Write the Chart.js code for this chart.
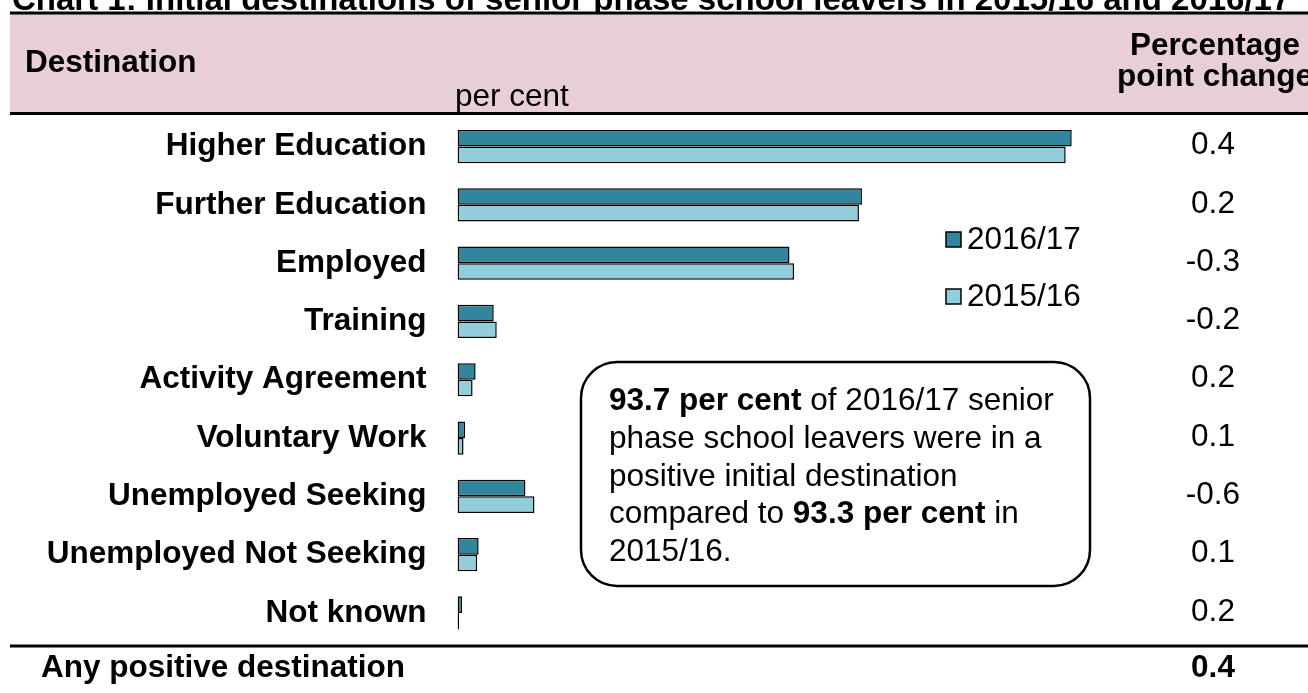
<!DOCTYPE html>
<html>
<head>
<meta charset="utf-8">
<script src="https://cdn.jsdelivr.net/npm/chart.js@4.4.1/dist/chart.umd.min.js"></script>
<style>
  html, body { margin: 0; padding: 0; background: #fff; }
  #wrap { width: 1308px; height: 693px; position: relative; }
</style>
</head>
<body>
<div id="wrap"><canvas id="c" width="1308" height="693"></canvas></div>
<script>
const titleText = 'Chart 1: Initial destinations of senior phase school leavers in 2015/16 and 2016/17';
const categories = ['Higher Education', 'Further Education', 'Employed', 'Training', 'Activity Agreement',
  'Voluntary Work', 'Unemployed Seeking', 'Unemployed Not Seeking', 'Not known'];
const seriesLabels = ['2016/17', '2015/16'];
const values1617 = [40.7, 26.8, 22.0, 2.4, 1.2, 0.5, 4.5, 1.4, 0.3];
const values1516 = [40.3, 26.6, 22.3, 2.6, 1.0, 0.4, 5.1, 1.3, 0.1];
const changeLabels = ['0.4', '0.2', '-0.3', '-0.2', '0.2', '0.1', '-0.6', '0.1', '0.2'];
const totalLabel = 'Any positive destination';
const totalChange = '0.4';
const headerLeft = 'Destination';
const headerUnit = 'per cent';
const headerRight = ['Percentage', 'point change'];
const noteLines = [
  [['93.7 per cent', true], [' of 2016/17 senior', false]],
  [['phase school leavers were in a', false]],
  [['positive initial destination', false]],
  [['compared to ', false], ['93.3 per cent', true], [' in', false]],
  [['2015/16.', false]]
];

const FONT = '"Liberation Sans", Arial, Helvetica, sans-serif';
const FS = 31.5;
const DARK = '#31859C';
const LIGHT = '#92CDDC';
const PINK = '#E8CED8';

const decorPlugin = {
  id: 'decor',
  beforeDraw(chart) {
    const ctx = chart.ctx;
    ctx.save();
    ctx.fillStyle = '#fff';
    ctx.fillRect(0, 0, chart.width, chart.height);
    // title (partly cut off at top)
    ctx.fillStyle = '#000';
    ctx.font = 'bold 33px ' + FONT;
    ctx.textBaseline = 'alphabetic';
    ctx.textAlign = 'left';
    ctx.fillText(titleText, 12, 10);
    // header band
    ctx.fillStyle = PINK;
    ctx.fillRect(10, 14, chart.width - 10, 99);
    ctx.fillStyle = '#000';
    ctx.fillRect(10, 11.5, chart.width - 10, 3);
    ctx.fillRect(10, 112, chart.width - 10, 3);
    ctx.font = 'bold ' + FS + 'px ' + FONT;
    ctx.textBaseline = 'middle';
    ctx.fillText(headerLeft, 25, 63);
    ctx.textAlign = 'center';
    ctx.fillText(headerRight[0], 1215, 46);
    ctx.fillText(headerRight[1], 1215, 77);
    ctx.textAlign = 'left';
    ctx.font = FS + 'px ' + FONT;
    ctx.fillText(headerUnit, 455, 97);
    // bottom separator and total row
    ctx.fillRect(10, 644.5, chart.width - 10, 3);
    ctx.font = 'bold ' + FS + 'px ' + FONT;
    ctx.fillText(totalLabel, 41, 668);
    ctx.textAlign = 'center';
    ctx.fillText(totalChange, 1213, 668);
    ctx.restore();
  },
  afterDraw(chart) {
    const ctx = chart.ctx;
    const y = chart.scales.y;
    ctx.save();
    // right column: percentage point change, aligned to category rows
    ctx.fillStyle = '#000';
    ctx.font = FS + 'px ' + FONT;
    ctx.textAlign = 'center';
    ctx.textBaseline = 'middle';
    changeLabels.forEach((t, i) => ctx.fillText(t, 1213, y.getPixelForValue(i) - 1));
    // legend
    const legendY = [240, 297];
    chart.data.datasets.forEach((ds, i) => {
      ctx.fillStyle = ds.backgroundColor;
      ctx.fillRect(946, legendY[i] - 8, 15, 15);
      ctx.strokeStyle = '#000';
      ctx.lineWidth = 1.5;
      ctx.strokeRect(946, legendY[i] - 8, 15, 15);
      ctx.fillStyle = '#000';
      ctx.textAlign = 'left';
      ctx.fillText(ds.label, 967, legendY[i]);
    });
    // annotation box
    const bx = 581, by = 362, bw = 509, bh = 224, r = 36;
    ctx.beginPath();
    ctx.moveTo(bx + r, by);
    ctx.lineTo(bx + bw - r, by);
    ctx.arcTo(bx + bw, by, bx + bw, by + r, r);
    ctx.lineTo(bx + bw, by + bh - r);
    ctx.arcTo(bx + bw, by + bh, bx + bw - r, by + bh, r);
    ctx.lineTo(bx + r, by + bh);
    ctx.arcTo(bx, by + bh, bx, by + bh - r, r);
    ctx.lineTo(bx, by + r);
    ctx.arcTo(bx, by, bx + r, by, r);
    ctx.closePath();
    ctx.fillStyle = '#fff';
    ctx.fill();
    ctx.lineWidth = 2.5;
    ctx.strokeStyle = '#000';
    ctx.stroke();
    ctx.fillStyle = '#000';
    ctx.textBaseline = 'alphabetic';
    ctx.textAlign = 'left';
    noteLines.forEach((runs, li) => {
      let x = 609;
      const yy = 410 + li * 37.8;
      runs.forEach(([txt, bold]) => {
        ctx.font = (bold ? 'bold ' : '') + FS + 'px ' + FONT;
        ctx.fillText(txt, x, yy);
        x += ctx.measureText(txt).width;
      });
    });
    ctx.restore();
  }
};

new Chart(document.getElementById('c'), {
  type: 'bar',
  data: {
    labels: categories,
    datasets: [
      { label: seriesLabels[0], data: values1617, backgroundColor: DARK, borderColor: '#000', borderWidth: 1.5, borderSkipped: false },
      { label: seriesLabels[1], data: values1516, backgroundColor: LIGHT, borderColor: '#000', borderWidth: 1.5, borderSkipped: false }
    ]
  },
  options: {
    indexAxis: 'y',
    responsive: false,
    animation: false,
    devicePixelRatio: 1,
    layout: { padding: { top: 117.4, bottom: 50.9, left: 0, right: 171.4 } },
    datasets: { bar: { categoryPercentage: 0.57, barPercentage: 1.0 } },
    plugins: { legend: { display: false }, tooltip: { enabled: false }, title: { display: false } },
    scales: {
      x: { display: false, min: 0, max: 45 },
      y: {
        grid: { display: false, drawTicks: false },
        border: { display: false },
        ticks: { color: '#000', font: { family: FONT, size: FS, weight: 'bold' }, padding: 31, autoSkip: false },
        afterFit(scale) { scale.width = 457.5; }
      }
    }
  },
  plugins: [decorPlugin]
});
</script>
</body>
</html>
